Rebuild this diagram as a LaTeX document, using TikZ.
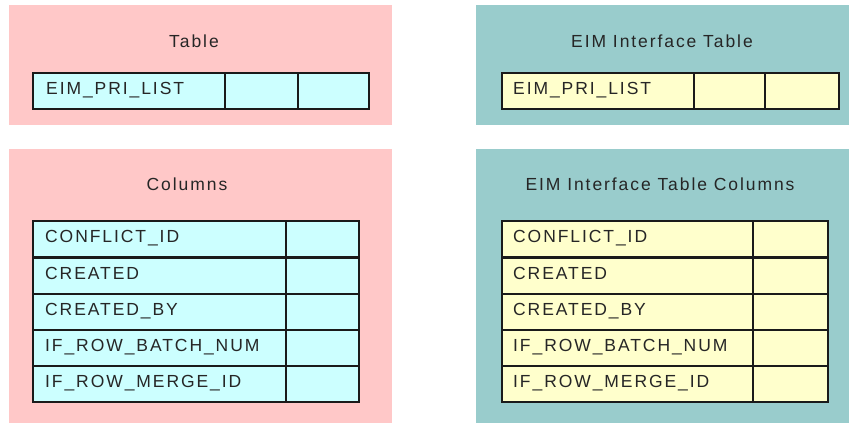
\documentclass[tikz,border=0pt]{standalone}
\usepackage{fontspec}
\newfontfamily\pxfont[LetterSpace=11]{Liberation Sans}
\definecolor{pinkbg}{HTML}{FFC8C8}
\definecolor{tealbg}{HTML}{99CCCC}
\definecolor{cyancell}{HTML}{CCFFFF}
\definecolor{yellowcell}{HTML}{FFFFCC}
\definecolor{edge}{HTML}{1A1A1A}
\begin{document}
\begin{tikzpicture}[x=1pt,y=-1pt,
  panel/.style={rectangle, anchor=north west, inner sep=0pt, draw=none},
  cellbox/.style={rectangle, anchor=north west, inner sep=0pt, draw=edge, line width=1.6pt},
  celltext/.style={anchor=base west, inner sep=0pt, font=\pxfont\fontsize{17.5}{20}\selectfont, text=black!85},
  titletext/.style={anchor=base, inner sep=0pt, font=\pxfont\fontsize{17.5}{20}\selectfont, text=black!85}]
\useasboundingbox (0,0) rectangle (849,423);
% panels
\node[panel, fill=pinkbg, minimum width=383pt, minimum height=120pt] (p1) at (9,5) {};
\node[panel, fill=tealbg, minimum width=373pt, minimum height=120pt] (p2) at (476,5) {};
\node[panel, fill=pinkbg, minimum width=383pt, minimum height=274pt] (p3) at (9,149) {};
\node[panel, fill=tealbg, minimum width=373pt, minimum height=274pt] (p4) at (476,149) {};
% titles
\node[titletext] (t1) at (194,47) {Table};
\node[titletext] (t2) at (662,47) {EIM Interface Table};
\node[titletext] (t3) at (187,190) {Columns};
\node[titletext] (t4) at (660,190) {EIM Interface Table Columns};
% top left table row
\node[cellbox, fill=cyancell, minimum width=192pt, minimum height=36pt] (a1) at (32,72) {};
\node[cellbox, fill=cyancell, minimum width=73pt, minimum height=36pt] (a2) at (224,72) {};
\node[cellbox, fill=cyancell, minimum width=71pt, minimum height=36pt] (a3) at (297,72) {};
\node[celltext] (a1t) at ([xshift=14pt,yshift=-22pt]a1.north west) {EIM\_PRI\_LIST};
% top right table row
\node[cellbox, fill=yellowcell, minimum width=192pt, minimum height=36pt] (b1) at (501,72) {};
\node[cellbox, fill=yellowcell, minimum width=71pt, minimum height=36pt] (b2) at (693,72) {};
\node[cellbox, fill=yellowcell, minimum width=74pt, minimum height=36pt] (b3) at (764,72) {};
\node[celltext] (b1t) at ([xshift=12pt,yshift=-22pt]b1.north west) {EIM\_PRI\_LIST};
% column tables
\foreach \i/\y/\txt in {1/220/CONFLICT\_ID, 2/257/CREATED, 3/293/CREATED\_BY, 4/329/IF\_ROW\_BATCH\_NUM, 5/365/IF\_ROW\_MERGE\_ID}{
  \node[cellbox, fill=cyancell, minimum width=253pt, minimum height=36pt] (c\i) at (32,\y) {};
  \node[cellbox, fill=cyancell, minimum width=73pt, minimum height=36pt] (cc\i) at (285,\y) {};
  \node[celltext] (c\i t) at ([xshift=13pt,yshift=-22pt]c\i.north west) {\txt};
  \node[cellbox, fill=yellowcell, minimum width=251pt, minimum height=36pt] (d\i) at (501,\y) {};
  \node[cellbox, fill=yellowcell, minimum width=75pt, minimum height=36pt] (dd\i) at (752,\y) {};
  \node[celltext] (d\i t) at ([xshift=12pt,yshift=-22pt]d\i.north west) {\txt};
}
\end{tikzpicture}
\end{document}
